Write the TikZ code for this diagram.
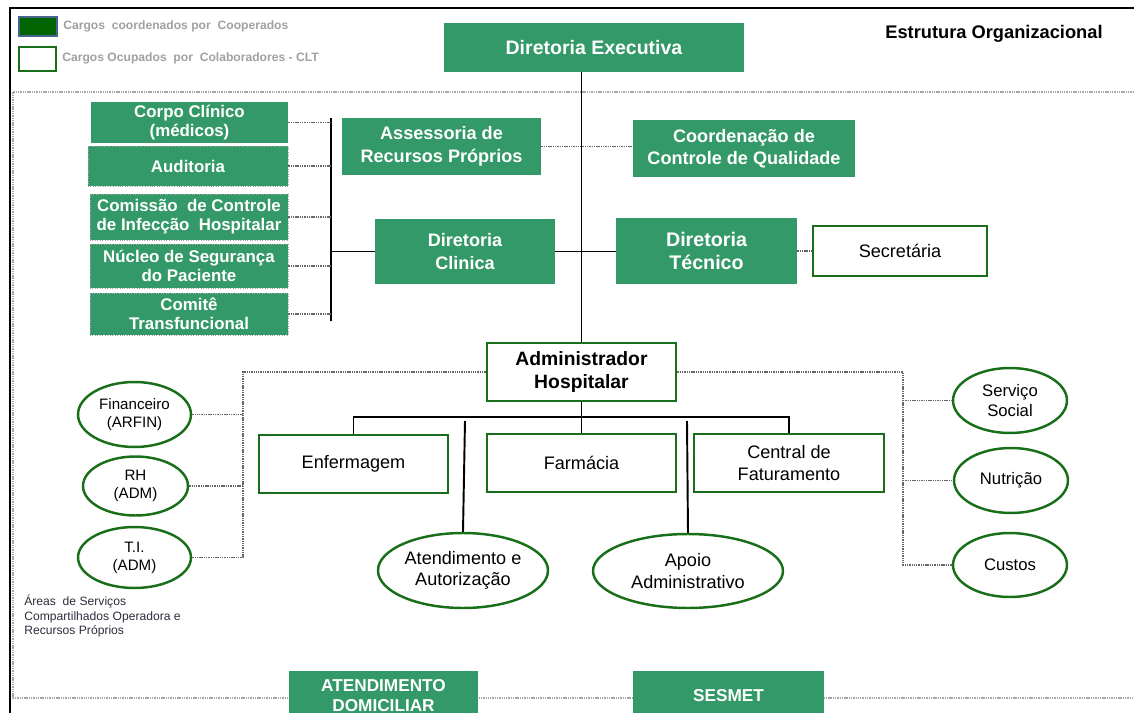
\documentclass[tikz,border=0pt]{standalone}
\usepackage{fontspec}
\setmainfont{Liberation Sans}
\usepackage{tikz}
\usetikzlibrary{shapes.geometric}
\definecolor{boxgreen}{RGB}{52,153,104}
\definecolor{linegreen}{RGB}{25,110,25}
\definecolor{legendgreen}{RGB}{0,100,0}
\definecolor{legendblue}{RGB}{70,100,140}
\definecolor{legendgray}{RGB}{160,160,160}
\definecolor{notegray}{RGB}{45,45,60}

\begin{document}
\begin{tikzpicture}[x=0.02cm, y=-0.02cm]
      \tikzstyle{gbox} = [rectangle, fill=boxgreen, text=white, align=center, inner sep=0pt, font=\bfseries\fontsize{10.3}{12.8}\selectfont]
      \tikzstyle{side} = [gbox, draw=gray!70, densely dotted, minimum width=3.96cm, font=\bfseries\fontsize{9.6}{10.8}\selectfont]
      \tikzstyle{wbox} = [rectangle, draw=linegreen, line width=1.6pt, fill=white, align=center, inner sep=0pt, minimum width=3.78cm, minimum height=1.16cm, font=\fontsize{10.3}{12}\selectfont]
      \tikzstyle{oval} = [ellipse, draw=linegreen, line width=1.4pt, fill=white, align=center, inner sep=0pt, font=\fontsize{9.5}{11}\selectfont]
      \tikzstyle{link} = [dash pattern=on 0.8pt off 0.5pt, draw=gray!80!black, line width=0.7pt]
      \tikzstyle{tree} = [draw=black, line width=1.1pt]

      \clip (0,0) rectangle (1134,713);
      \draw [link, draw=gray!70] (1134,92) -- (13,92) -- (13,698) -- (1134,698);
      \draw [line width=1.7pt] (10,713) -- (10,8) -- (1134,8);

      \node (legA) [rectangle, draw=legendblue, line width=1.2pt, fill=legendgreen, minimum width=0.76cm, minimum height=0.38cm] at (38,26.5) {};
      \node (legAtext) [anchor=west, inner sep=0pt, text=legendgray, font=\bfseries\fontsize{6.9}{8}\selectfont] at (63,26.5) {Cargos\ \ coordenados por\ \ Cooperados};
      \node (legB) [rectangle, draw=linegreen, line width=1.4pt, fill=white, minimum width=0.74cm, minimum height=0.48cm] at (37.5,59) {};
      \node (legBtext) [anchor=west, inner sep=0pt, text=legendgray, font=\bfseries\fontsize{6.9}{8}\selectfont] at (62,58) {Cargos Ocupados\ \ por\ \ Colaboradores - CLT};
      \node (title) [anchor=west, inner sep=0pt, font=\bfseries\fontsize{10.4}{12}\selectfont] at (885,34) {Estrutura Organizacional};

      \node (dirExec) [gbox, minimum width=6cm, minimum height=0.98cm, font=\bfseries\fontsize{11.1}{13}\selectfont] at (594,47.5) {Diretoria Executiva};

      \node (corpo) [gbox, minimum width=3.94cm, minimum height=0.82cm, font=\bfseries\fontsize{9.6}{10.8}\selectfont] at (189.5,122.5) {Corpo Clínico\\(médicos)};
      \node (audit) [side, minimum width=4cm, minimum height=0.8cm] at (188,166) {Auditoria};
      \node (ccih) [side, minimum height=0.92cm] at (189,217) {Comissão\ \ de Controle\\de Infecção\ \ Hospitalar};
      \node (nucleo) [side, minimum height=0.88cm] at (189,266) {Núcleo de Segurança\\do Paciente};
      \node (comite) [side, minimum height=0.84cm] at (189,314) {Comitê\\Transfuncional};

      \node (assess) [gbox, minimum width=3.98cm, minimum height=1.14cm] at (441.5,146.5) {Assessoria de\\Recursos Próprios};
      \node (coord) [gbox, minimum width=4.44cm, minimum height=1.14cm] at (744,148.5) {Coordenação de\\Controle de Qualidade};
      \node (dirClin) [gbox, minimum width=3.6cm, minimum height=1.3cm] at (465,251.5) {Diretoria\\Clinica};
      \node (dirTec) [gbox, minimum width=3.62cm, minimum height=1.32cm, font=\bfseries\fontsize{11.2}{13.4}\selectfont] at (706.5,251) {Diretoria\\Técnico};
      \node (secret) [wbox, minimum width=3.48cm, minimum height=1cm] at (900,251) {Secretária};

      \node (admin) [wbox, font=\bfseries\fontsize{11}{12.6}\selectfont] at (581.5,372) {Administrador\\Hospitalar};
      \node (enf) [wbox] at (353.5,464) {Enfermagem};
      \node (farm) [wbox] at (581.5,463) {Farmácia};
      \node (central) [wbox, minimum width=3.8cm] at (789,463) {Central de\\Faturamento};

      \node (fin) [oval, minimum width=2.26cm, minimum height=1.3cm, font=\fontsize{8.6}{10.2}\selectfont] at (134.5,414.5) {Financeiro\\(ARFIN)};
      \node (rh) [oval, minimum width=2.1cm, minimum height=1.18cm, font=\fontsize{8.6}{10.2}\selectfont] at (135.5,486) {RH\\(ADM)};
      \node (ti) [oval, minimum width=2.26cm, minimum height=1.22cm, font=\fontsize{8.6}{10.2}\selectfont] at (134.5,557.5) {T.I.\\(ADM)};
      \node (note) [anchor=north west, inner sep=0pt, align=left, text=notegray, font=\fontsize{6.9}{8.2}\selectfont] at (24,595) {Áreas\ \ de Serviços\\Compartilhados Operadora e\\Recursos Próprios};

      \node (atend) [oval, minimum width=3.4cm, minimum height=1.5cm, font=\fontsize{10.3}{12}\selectfont] at (463,570.5) {Atendimento e\\Autorização};
      \node (apoio) [oval, minimum width=3.8cm, minimum height=1.48cm, font=\fontsize{10.3}{12}\selectfont] at (688,571) {Apoio\\Administrativo};

      \node (social) [oval, minimum width=2.28cm, minimum height=1.3cm] at (1010,400.5) {Serviço\\Social};
      \node (nutri) [oval, minimum width=2.28cm, minimum height=1.3cm] at (1011,480.5) {Nutrição};
      \node (custos) [oval, minimum width=2.28cm, minimum height=1.28cm] at (1010,565) {Custos};

      \node (atdom) [gbox, anchor=north, minimum width=3.78cm, minimum height=0.96cm, font=\bfseries\fontsize{9.8}{11.4}\selectfont] at (383.5,671) {ATENDIMENTO\\DOMICILIAR};
      \node (sesmet) [gbox, anchor=north, minimum width=3.82cm, minimum height=0.96cm, font=\bfseries\fontsize{9.8}{11.4}\selectfont] at (728.5,671) {SESMET};

      \coordinate (barTop) at (331,118);
      \coordinate (barBot) at (331,321);
      \draw [tree] (barTop) -- (barBot);
      \foreach \n in {corpo,audit,ccih,nucleo,comite}
        \draw [link] (\n.east) -- (\n.east -| barTop);
      \draw [tree] (dirClin.west) -- (dirClin.west -| barTop);
      \draw [tree] (dirClin.east) -- (dirClin.east -| dirTec.west);
      \draw [link] (dirTec.east) -- (secret.west);
      \draw [link] (assess.east) -- (assess.east -| coord.west);
      \draw [tree] (dirExec.south -| admin.north) -- (admin.north);

      \coordinate (lbus) at (243,371);
      \draw [link] (admin.west) -- (admin.west -| lbus) -- (ti.east -| lbus) -- (ti.east);
      \draw [link] (fin.east) -- (fin.east -| lbus);
      \draw [link] (rh.east) -- (rh.east -| lbus);

      \coordinate (rbus) at (903,372);
      \draw [link] (admin.east) -- (admin.east -| rbus) -- (custos.west -| rbus) -- (custos.west);
      \draw [link] (social.west -| rbus) -- (social.west);
      \draw [link] (nutri.west -| rbus) -- (nutri.west);

      \coordinate (bus) at (583,417);
      \draw [tree] (admin.south) -- (farm.north);
      \draw [tree] (enf.north) |- (bus) -| (central.north);
      \coordinate (atTop) at (465,421);
      \draw [tree] (atTop) -- (atend.north);
      \coordinate (apTop) at (687,421);
      \draw [tree] (apTop) -- (apoio.north);

\end{tikzpicture}
\end{document}
